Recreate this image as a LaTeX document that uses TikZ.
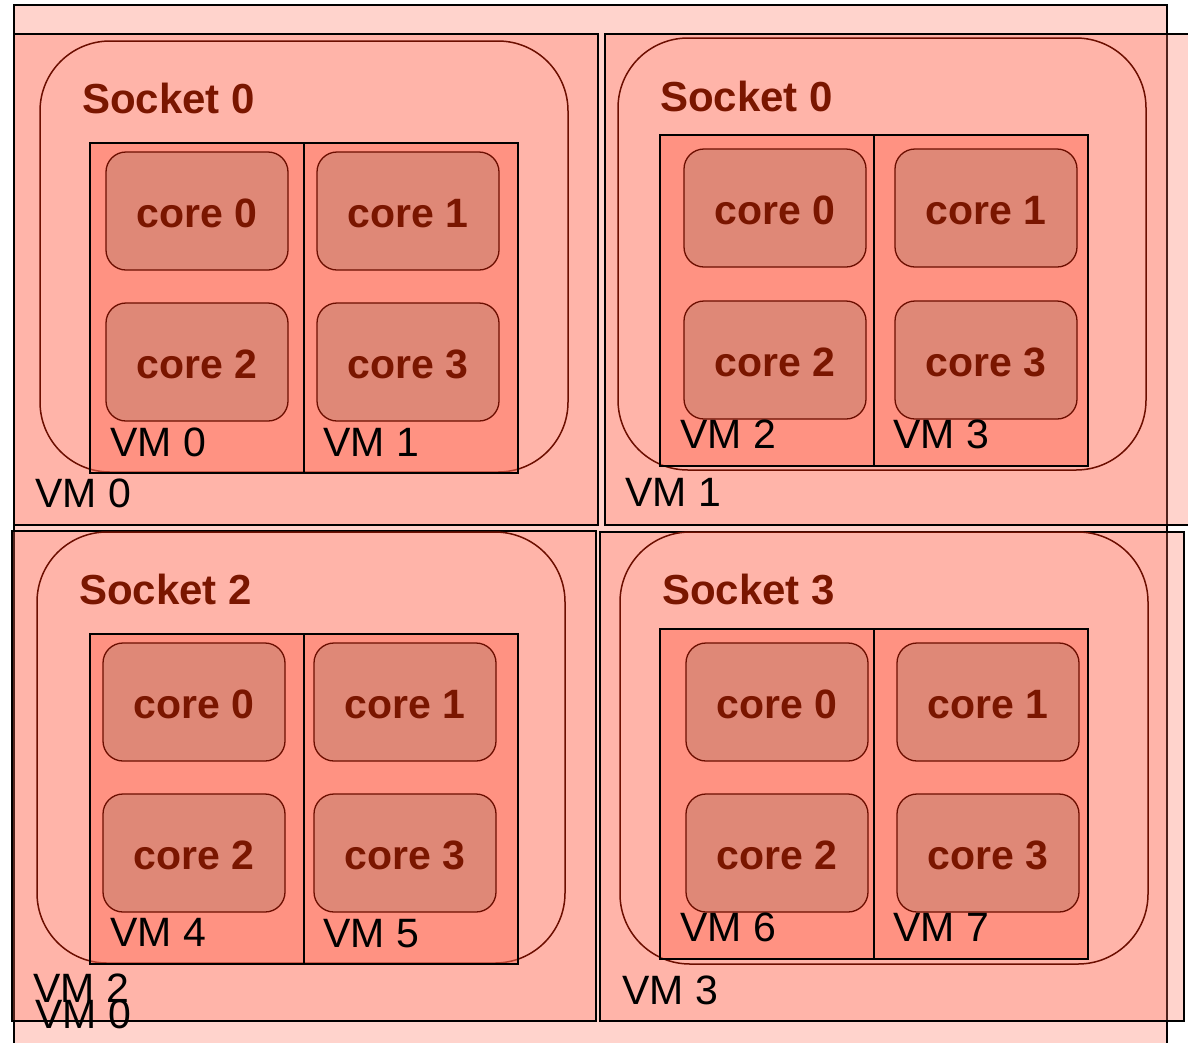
\documentclass[tikz,border=0pt]{standalone}
\usepackage{fontspec}
\setmainfont{Liberation Sans}

\definecolor{vmfill}{RGB}{255,112,92}
\definecolor{corefill}{RGB}{223,136,119}
\definecolor{socketline}{RGB}{108,14,0}
\definecolor{labeltext}{RGB}{122,22,0}

\tikzset{
  vmbox/.style={draw=black, line width=1.8pt, fill=vmfill, fill opacity=0.31},
  guestbox/.style={draw=black, line width=1.8pt, fill=vmfill, fill opacity=0.5},
  socketbox/.style={draw=socketline, line width=1.5pt, rounded corners=70pt},
  corebox/.style={draw=socketline, line width=1.3pt, fill=corefill, rounded corners=20pt,
    minimum width=182pt, minimum height=118pt, inner sep=0pt, text height=34pt,
    font=\fontsize{41}{49}\selectfont\bfseries, text=labeltext},
  socketlabel/.style={anchor=base west, inner sep=0pt,
    font=\fontsize{42}{50}\selectfont\bfseries, text=labeltext},
  vmlabel/.style={anchor=base west, inner sep=0pt, font=\fontsize{41}{49}\selectfont}
}

\begin{document}
\begin{tikzpicture}[x=1pt,y=-1pt]
                \useasboundingbox (0,0) rectangle (1188,1042);
                \clip (0,0) rectangle (1188,1042);
                % whole machine
                \draw [vmbox] (14,5) rectangle (1167,1046);
                % one box per socket
                \draw [vmbox] (14,34) rectangle (598,525);
                \draw [vmbox] (605,34) rectangle (1189,525);
                \draw [vmbox] (12,531) rectangle (596,1021);
                \draw [vmbox] (600,532) rectangle (1184,1021);
                % sockets
                \draw [socketbox] (40,41) rectangle (568,472);
                \draw [socketbox] (618,38) rectangle (1146,470);
                \draw [socketbox] (37,532) rectangle (565,963);
                \draw [socketbox] (620,532) rectangle (1148,964);
                % two guests per socket
                \draw [guestbox] (90,143) rectangle (304,473);
                \draw [guestbox] (304,143) rectangle (518,473);
                \draw [guestbox] (660,135) rectangle (874,466);
                \draw [guestbox] (874,135) rectangle (1088,466);
                \draw [guestbox] (90,634) rectangle (304,964);
                \draw [guestbox] (304,634) rectangle (518,964);
                \draw [guestbox] (660,629) rectangle (874,959);
                \draw [guestbox] (874,629) rectangle (1088,959);
                % cores
                \node [corebox] (s0a-c0) at (197,211) {core 0};
                \node [corebox] (s0a-c1) at (408,211) {core 1};
                \node [corebox] (s0a-c2) at (197,362) {core 2};
                \node [corebox] (s0a-c3) at (408,362) {core 3};
                \node [corebox] (s0b-c0) at (775,208) {core 0};
                \node [corebox] (s0b-c1) at (986,208) {core 1};
                \node [corebox] (s0b-c2) at (775,360) {core 2};
                \node [corebox] (s0b-c3) at (986,360) {core 3};
                \node [corebox] (s2-c0) at (194,702) {core 0};
                \node [corebox] (s2-c1) at (405,702) {core 1};
                \node [corebox] (s2-c2) at (194,853) {core 2};
                \node [corebox] (s2-c3) at (405,853) {core 3};
                \node [corebox] (s3-c0) at (777,702) {core 0};
                \node [corebox] (s3-c1) at (988,702) {core 1};
                \node [corebox] (s3-c2) at (777,853) {core 2};
                \node [corebox] (s3-c3) at (988,853) {core 3};
                % socket names
                \node [socketlabel] (s0a-name) at (82,113) {Socket 0};
                \node [socketlabel] (s0b-name) at (660,111) {Socket 0};
                \node [socketlabel] (s2-name) at (79,604) {Socket 2};
                \node [socketlabel] (s3-name) at (662,604) {Socket 3};
                % guest names
                \node [vmlabel] (vm0) at (110,456) {VM 0};
                \node [vmlabel] (vm1) at (323,456) {VM 1};
                \node [vmlabel] (vm2) at (680,448) {VM 2};
                \node [vmlabel] (vm3) at (893,448) {VM 3};
                \node [vmlabel] (vm4) at (110,946) {VM 4};
                \node [vmlabel] (vm5) at (323,947) {VM 5};
                \node [vmlabel] (vm6) at (680,941) {VM 6};
                \node [vmlabel] (vm7) at (893,941) {VM 7};
                % host box names
                \node [vmlabel] (host0) at (35,507) {VM 0};
                \node [vmlabel] (host1) at (625,506) {VM 1};
                \node [vmlabel] (host2) at (33,1002) {VM 2};
                \node [vmlabel] (host3) at (622,1004) {VM 3};
                \node [vmlabel] (outer) at (35,1028) {VM 0};
\end{tikzpicture}
\end{document}
